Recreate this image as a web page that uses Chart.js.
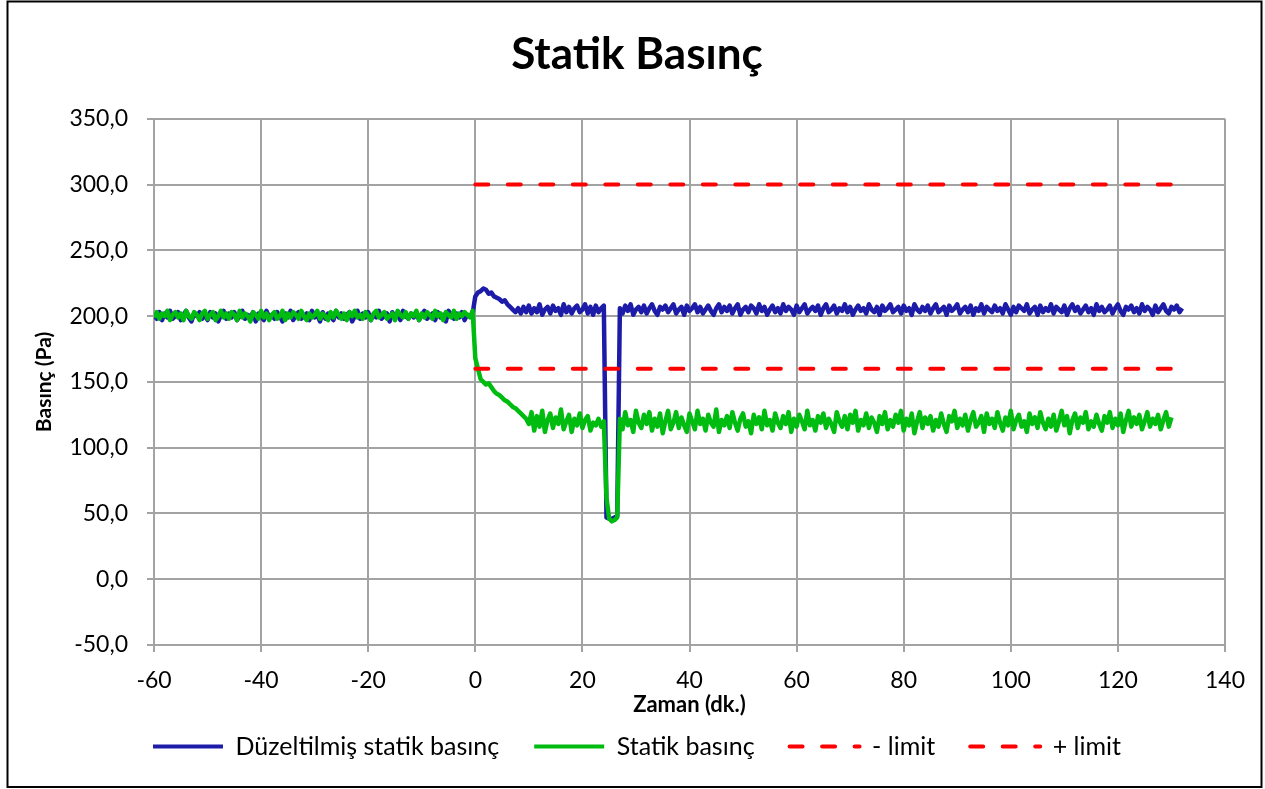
<!DOCTYPE html>
<html>
<head>
<meta charset="utf-8">
<script src="https://cdn.jsdelivr.net/npm/chart.js@4/dist/chart.umd.min.js"></script>
<style>
  html, body { margin: 0; padding: 0; background: #fff; overflow: hidden; }
  canvas { display: block; }
</style>
</head>
<body>
<canvas id="chart" width="1265" height="789"></canvas>
<script>
"use strict";

// both pressure series start at -60 dk. and are logged every half minute
var startMinute = -60;
var sampleStep = 0.5;

// Düzeltilmiş statik basınç (Pa), -60 .. 132 dk.
var duzeltilmis = [
    // -60 .. -0.5
    201, 198, 203, 197, 202, 199, 204, 198, 200, 203, 197, 201, 204, 199, 196, 202, 200, 203, 198, 201,
    197, 203, 199, 202, 196, 201, 204, 198, 202, 199, 203, 197, 200, 204, 198, 201, 199, 203, 196, 202,
    200, 197, 204, 199, 201, 198, 203, 200, 196, 202, 199, 204, 197, 201, 203, 198, 200, 202, 197, 204,
    199, 201, 196, 203, 198, 202, 200, 197, 204, 199, 202, 198, 201, 203, 196, 200, 204, 198, 202, 199,
    203, 197, 201, 199, 204, 198, 200, 202, 196, 203, 199, 201, 197, 204, 200, 198, 202, 199, 203, 197,
    201, 204, 198, 200, 202, 197, 203, 199, 201, 196, 204, 200, 198, 202, 199, 203, 197, 201, 200, 202,
    // 0 .. 26.5
    215, 218, 219, 221, 220, 217, 218, 215, 214, 213, 211, 212, 209, 207, 205, 203, 206, 202, 207, 203,
    208, 202, 206, 203, 209, 201, 205, 207, 202, 208, 204, 206, 201, 209, 203, 207, 202, 206, 208, 203,
    205, 209, 202, 207, 201, 208, 203, 206, 208,
    47, 46, 46, 47, 48,
    // 27 .. 132
    206, 202, 208, 204, 209, 201, 205, 207, 203, 208, 202, 206, 209, 204, 201, 207, 205, 208, 203, 206,
    209, 202, 205, 207, 201, 208, 204, 206, 209, 203, 207, 202, 205, 208, 204, 201, 206, 209, 203, 207,
    204, 208, 202, 206, 209, 201, 205, 207, 203, 208, 206, 202, 209, 204, 207, 201, 205, 208, 203, 206,
    202, 209, 204, 207, 205, 201, 208, 203, 206, 209, 202, 205, 207, 204, 208, 201, 206, 209, 203, 205,
    208, 202, 206, 204, 209, 203, 207, 201, 205, 208, 204, 206, 202, 209, 205, 203, 207, 201, 208, 204,
    206, 209, 203, 205, 207, 202, 208, 204, 206, 201, 209, 205, 203, 207, 204, 208, 202, 206, 209, 203,
    205, 207, 201, 208, 204, 206, 209, 202, 205, 207, 203, 208, 201, 206, 204, 209, 202, 207, 205, 203,
    208, 204, 206, 202, 209, 205, 201, 207, 203, 208, 206, 204, 209, 202, 205, 207, 201, 208, 203, 206,
    204, 209, 202, 207, 205, 203, 208, 201, 206, 209, 204, 207, 202, 205, 208, 203, 206, 201, 209, 204,
    207, 203, 205, 208, 202, 206, 209, 204, 201, 207, 205, 208, 203, 206, 202, 209, 204, 207, 205, 201,
    208, 203, 206, 209, 204, 202, 207, 205, 208, 203, 206
];

// Statik basınç (Pa), -60 .. 130 dk.
var statik = [
    // -60 .. -0.5
    199, 203, 198, 202, 200, 204, 197, 201, 203, 199, 202, 197, 204, 200, 198, 203, 201, 197, 202, 204,
    198, 201, 203, 197, 200, 204, 199, 202, 198, 203, 201, 197, 204, 199, 202, 200, 196, 203, 201, 198,
    204, 199, 202, 197, 201, 203, 198, 200, 204, 197, 202, 199, 203, 201, 198, 204, 200, 197, 202, 199,
    201, 204, 198, 202, 200, 197, 203, 199, 204, 201, 198, 202, 197, 203, 200, 204, 199, 201, 198, 203,
    200, 197, 202, 204, 199, 201, 203, 198, 200, 202, 197, 204, 201, 199, 203, 198, 202, 200, 204, 197,
    202, 199, 203, 201, 198, 204, 200, 202, 197, 203, 201, 199, 204, 198, 202, 200, 203, 201, 199, 204,
    // 0 .. 26.5
    168, 160, 152, 150, 148, 149, 146, 143, 141, 140, 138, 136, 135, 133, 131, 130, 128, 126, 124, 122,
    118, 127, 113, 124, 116, 128, 112, 121, 126, 115, 123, 118, 129, 114, 120, 125, 112, 122, 117, 126,
    115, 121, 124, 113, 119, 117, 122, 116, 120,
    62, 46, 44, 45, 47,
    // 27 .. 130
    122, 114, 127, 117, 121, 112, 128, 119, 115, 125, 118, 127, 113, 122, 116, 126, 111, 120, 128, 114,
    119, 127, 115, 123, 117, 112, 126, 120, 114, 128, 118, 122, 113, 125, 119, 116, 129, 112, 121, 117,
    124, 115, 127, 119, 113, 122, 126, 116, 120, 111, 125, 118, 123, 114, 128, 117, 121, 113, 126, 119,
    115, 124, 118, 127, 112, 122, 116, 125, 120, 114, 128, 117, 121, 113, 124, 119, 126, 115, 122, 118,
    112, 127, 120, 116, 124, 114, 125, 119, 128, 113, 121, 117, 126, 115, 123, 119, 112, 124, 118, 127,
    114, 121, 116, 125, 119, 128, 113, 122, 117, 126, 111, 120, 127, 115, 123, 118, 124, 113, 121, 116,
    126, 118, 112, 124, 120, 128, 115, 122, 117, 125, 113, 121, 127, 116, 119, 124, 112, 126, 118, 122,
    115, 127, 119, 113, 123, 117, 128, 114, 121, 125, 116, 120, 112, 126, 118, 123, 115, 127, 119, 114,
    122, 116, 125, 113, 120, 128, 117, 124, 111, 121, 126, 115, 123, 119, 127, 114, 120, 116, 125, 118,
    113, 124, 119, 127, 115, 122, 117, 126, 112, 121, 128, 116, 123, 118, 125, 114, 120, 127, 116, 122,
    118, 125, 114, 121, 127, 116, 123
];

var limitTimes = [0, 130];
var limitMinus = [160, 160];
var limitPlus = [300, 300];

var seriesNames = ['Düzeltilmiş statik basınç', 'Statik basınç', '- limit', '+ limit'];

function toPoints(values) {
    return values.map(function (v, i) { return { x: startMinute + i * sampleStep, y: v }; });
}

function toLimitPoints(values) {
    return values.map(function (v, i) { return { x: limitTimes[i], y: v }; });
}

Chart.defaults.font.family = 'Lato, "Open Sans", sans-serif';
Chart.defaults.color = '#000';

var outerFrame = {
    id: 'outerFrame',
    beforeDraw: function (chart) {
        var ctx = chart.ctx;
        ctx.save();
        ctx.fillStyle = '#fff';
        ctx.fillRect(0, 0, chart.width, chart.height);
        ctx.strokeStyle = '#000';
        ctx.lineWidth = 2;
        ctx.strokeRect(7.5, 1.5, 1254, 785.5);
        ctx.restore();
    }
};

// legend samples should carry the dash pattern of their line
function legendLabels(chart) {
    var items = Chart.defaults.plugins.legend.labels.generateLabels(chart);
    items.forEach(function (item) {
        var ds = chart.data.datasets[item.datasetIndex];
        item.lineDash = ds.borderDash || [];
        item.lineCap = ds.borderCapStyle || 'butt';
        item.lineWidth = 4;
    });
    return items;
}

var gridColor = '#a3a3a3';
var limitDash = [13, 19.5];

var chart = new Chart(document.getElementById('chart'), {
    type: 'line',
    data: {
        datasets: [{
            label: seriesNames[0],
            data: toPoints(duzeltilmis),
            borderColor: '#1c1ca8',
            backgroundColor: '#1c1ca8',
            borderWidth: 4.5,
            borderJoinStyle: 'round',
            order: 3
        }, {
            label: seriesNames[1],
            data: toPoints(statik),
            borderColor: '#00bb10',
            backgroundColor: '#00bb10',
            borderWidth: 4.5,
            borderJoinStyle: 'round',
            order: 2
        }, {
            label: seriesNames[2],
            data: toLimitPoints(limitMinus),
            borderColor: '#ff0000',
            backgroundColor: '#ff0000',
            borderWidth: 4,
            borderDash: limitDash,
            borderCapStyle: 'round',
            order: 1
        }, {
            label: seriesNames[3],
            data: toLimitPoints(limitPlus),
            borderColor: '#ff0000',
            backgroundColor: '#ff0000',
            borderWidth: 4,
            borderDash: limitDash,
            borderCapStyle: 'round',
            order: 0
        }]
    },
    options: {
        responsive: false,
        animation: false,
        parsing: false,
        elements: {
            point: { radius: 0, hoverRadius: 0 },
            line: { tension: 0 }
        },
        layout: {
            padding: { left: 49, right: 40, top: 10, bottom: 20 }
        },
        plugins: {
            title: {
                display: true,
                text: 'Statik Basınç',
                color: '#000',
                font: { size: 44, weight: 'bold' },
                padding: { top: 18, bottom: 38 }
            },
            legend: {
                position: 'bottom',
                labels: {
                    usePointStyle: true,
                    pointStyle: 'line',
                    pointStyleWidth: 70,
                    padding: 35,
                    color: '#000',
                    font: { size: 25 },
                    generateLabels: legendLabels,
                    sort: function (a, b) { return a.datasetIndex - b.datasetIndex; }
                }
            },
            tooltip: { enabled: false }
        },
        scales: {
            x: {
                type: 'linear',
                min: -60,
                max: 140,
                ticks: { stepSize: 20, padding: 15, color: '#000', font: { size: 23 } },
                grid: { color: gridColor, lineWidth: 2, tickLength: 7 },
                border: { color: gridColor, width: 2 },
                title: {
                    display: true,
                    text: 'Zaman (dk.)',
                    color: '#000',
                    font: { size: 22, weight: 'bold' },
                    padding: { top: 0, bottom: -19 }
                },
                afterFit: function (axis) { axis.height = 54; }
            },
            y: {
                min: -50,
                max: 350,
                ticks: {
                    stepSize: 50,
                    padding: 19,
                    color: '#000',
                    font: { size: 23 },
                    callback: function (value) { return value.toFixed(1).replace('.', ','); }
                },
                grid: { color: gridColor, lineWidth: 2, tickLength: 7 },
                border: { color: gridColor, width: 2 },
                title: {
                    display: true,
                    text: 'Basınç (Pa)',
                    color: '#000',
                    font: { size: 21, weight: 'bold' },
                    padding: { top: -17, bottom: 0 }
                },
                afterFit: function (axis) { axis.width = 105; }
            }
        }
    },
    plugins: [outerFrame]
});
</script>
</body>
</html>
